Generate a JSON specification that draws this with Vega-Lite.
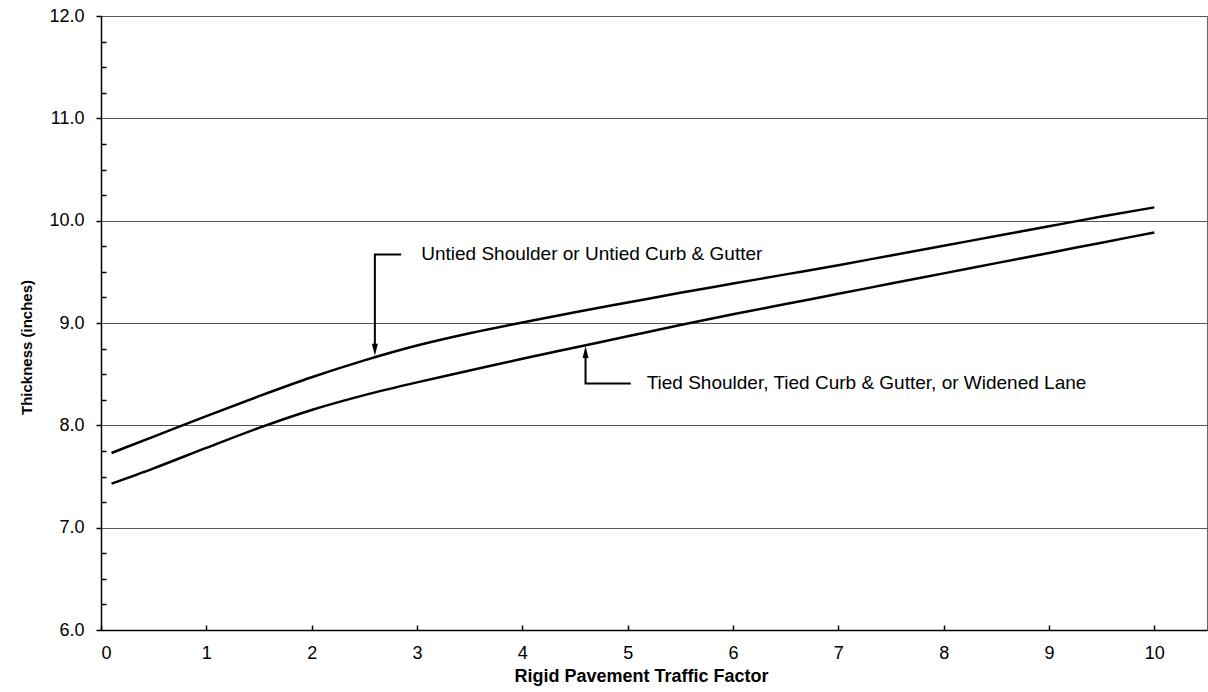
{
  "$schema": "https://vega.github.io/schema/vega-lite/v6.json",
  "width": 1106,
  "height": 614,
  "autosize": "none",
  "padding": {"left": 101, "top": 16, "right": 1, "bottom": 62},
  "background": "white",
  "config": {"view": {"stroke": "#666666", "strokeWidth": 1}, "font": "Liberation Sans"},
  "datasets": {
    "curves": [
      {"s": "Untied", "x": 0.1, "y": 7.73}, {"s": "Untied", "x": 0.5, "y": 7.89}, {"s": "Untied", "x": 1.0, "y": 8.09},
      {"s": "Untied", "x": 1.5, "y": 8.285}, {"s": "Untied", "x": 2.0, "y": 8.47}, {"s": "Untied", "x": 2.5, "y": 8.635},
      {"s": "Untied", "x": 3.0, "y": 8.78}, {"s": "Untied", "x": 3.5, "y": 8.90}, {"s": "Untied", "x": 4.0, "y": 9.005},
      {"s": "Untied", "x": 4.5, "y": 9.105}, {"s": "Untied", "x": 5.0, "y": 9.20}, {"s": "Untied", "x": 5.5, "y": 9.295},
      {"s": "Untied", "x": 6.0, "y": 9.385}, {"s": "Untied", "x": 6.5, "y": 9.475}, {"s": "Untied", "x": 7.0, "y": 9.565},
      {"s": "Untied", "x": 7.5, "y": 9.66}, {"s": "Untied", "x": 8.0, "y": 9.755}, {"s": "Untied", "x": 8.5, "y": 9.85},
      {"s": "Untied", "x": 9.0, "y": 9.945}, {"s": "Untied", "x": 9.5, "y": 10.04}, {"s": "Untied", "x": 10.0, "y": 10.13},
      {"s": "Tied", "x": 0.1, "y": 7.43}, {"s": "Tied", "x": 0.5, "y": 7.58}, {"s": "Tied", "x": 1.0, "y": 7.78},
      {"s": "Tied", "x": 1.5, "y": 7.975}, {"s": "Tied", "x": 2.0, "y": 8.15}, {"s": "Tied", "x": 2.5, "y": 8.295},
      {"s": "Tied", "x": 3.0, "y": 8.42}, {"s": "Tied", "x": 3.5, "y": 8.535}, {"s": "Tied", "x": 4.0, "y": 8.65},
      {"s": "Tied", "x": 4.5, "y": 8.76}, {"s": "Tied", "x": 5.0, "y": 8.87}, {"s": "Tied", "x": 5.5, "y": 8.98},
      {"s": "Tied", "x": 6.0, "y": 9.085}, {"s": "Tied", "x": 6.5, "y": 9.185}, {"s": "Tied", "x": 7.0, "y": 9.285},
      {"s": "Tied", "x": 7.5, "y": 9.385}, {"s": "Tied", "x": 8.0, "y": 9.485}, {"s": "Tied", "x": 8.5, "y": 9.585},
      {"s": "Tied", "x": 9.0, "y": 9.685}, {"s": "Tied", "x": 9.5, "y": 9.785}, {"s": "Tied", "x": 10.0, "y": 9.885}
    ],
    "leaders": [
      {"id": "u", "o": 1, "x": 2.85, "y": 9.67}, {"id": "u", "o": 2, "x": 2.6, "y": 9.67}, {"id": "u", "o": 3, "x": 2.6, "y": 8.75},
      {"id": "t", "o": 1, "x": 5.03, "y": 8.41}, {"id": "t", "o": 2, "x": 4.6, "y": 8.41}, {"id": "t", "o": 3, "x": 4.6, "y": 8.72}
    ],
    "arrows": [
      {"dir": "down", "x": 2.6, "y": 8.68},
      {"dir": "up", "x": 4.6, "y": 8.775}
    ],
    "labels": [
      {"t": "Untied Shoulder or Untied Curb & Gutter", "x": 3.04, "y": 9.67},
      {"t": "Tied Shoulder, Tied Curb & Gutter, or Widened Lane", "x": 5.18, "y": 8.41}
    ]
  },
  "resolve": {"axis": {"x": "independent", "y": "independent"}},
  "layer": [
    {
      "data": {"name": "curves"},
      "mark": {"type": "line", "color": "black", "strokeWidth": 2.5, "interpolate": "monotone"},
      "encoding": {
        "x": {"field": "x", "type": "quantitative",
          "scale": {"domain": [0, 10.5], "nice": false, "zero": false},
          "axis": {"orient": "bottom", "values": [0,1,2,3,4,5,6,7,8,9,10], "format": "d", "ticks": false, "tickSize": 0,
            "labelPadding": 14, "labelFontSize": 18, "labelColor": "black", "labelFont": "Liberation Sans",
            "domainColor": "black", "domainWidth": 1.5, "grid": false,
            "title": "Rigid Pavement Traffic Factor", "titleFontSize": 18, "titleFontWeight": "bold", "titleColor": "black",
            "titleFont": "Liberation Sans", "titlePadding": 5, "titleX": 540}},
        "y": {"field": "y", "type": "quantitative",
          "scale": {"domain": [6, 12], "nice": false, "zero": false},
          "axis": {"orient": "left", "values": [6,7,8,9,10,11,12], "format": ".1f", "tickSize": 5, "tickColor": "black", "tickWidth": 1.5,
            "labelPadding": 12, "labelFontSize": 18, "labelColor": "black", "labelFont": "Liberation Sans",
            "domainColor": "black", "domainWidth": 1.5, "grid": true, "gridColor": "#555555", "gridWidth": 1,
            "title": "Thickness (inches)", "titleFontSize": 15, "titleFontWeight": "bold", "titleColor": "black",
            "titleFont": "Liberation Sans", "titlePadding": 14, "titleY": 331}},
        "detail": {"field": "s", "type": "nominal"}
      }
    },
    {
      "data": {"name": "curves"},
      "mark": {"type": "point", "opacity": 0},
      "encoding": {
        "x": {"field": "x", "type": "quantitative",
          "axis": {"orient": "bottom", "values": [0,1,2,3,4,5,6,7,8,9,10], "labels": false, "ticks": true, "tickSize": -5,
            "tickColor": "black", "tickWidth": 1.5, "domain": false, "grid": false, "title": null}},
        "y": {"field": "y", "type": "quantitative",
          "axis": {"orient": "left", "values": [6.25,6.5,6.75,7.25,7.5,7.75,8.25,8.5,8.75,9.25,9.5,9.75,10.25,10.5,10.75,11.25,11.5,11.75],
            "labels": false, "ticks": true, "tickSize": -5, "tickColor": "black", "tickWidth": 1.5, "domain": false, "grid": false, "title": null}}
      }
    },
    {
      "data": {"name": "leaders"},
      "mark": {"type": "line", "color": "black", "strokeWidth": 2},
      "encoding": {
        "x": {"field": "x", "type": "quantitative", "axis": null},
        "y": {"field": "y", "type": "quantitative", "axis": null},
        "detail": {"field": "id", "type": "nominal"},
        "order": {"field": "o", "type": "quantitative"}
      }
    },
    {
      "data": {"name": "arrows"},
      "mark": {"type": "point", "filled": true, "color": "black", "opacity": 1, "size": 36, "strokeWidth": 0},
      "encoding": {
        "x": {"field": "x", "type": "quantitative", "axis": null},
        "y": {"field": "y", "type": "quantitative", "axis": null},
        "shape": {"field": "dir", "type": "nominal", "legend": null,
          "scale": {"domain": ["down", "up"], "range": ["M0,0L-1,-4L1,-4Z", "M0,0L-1,4L1,4Z"]}}
      }
    },
    {
      "data": {"name": "labels"},
      "mark": {"type": "text", "align": "left", "baseline": "middle", "fontSize": 19, "font": "Liberation Sans", "color": "black"},
      "encoding": {
        "x": {"field": "x", "type": "quantitative", "axis": null},
        "y": {"field": "y", "type": "quantitative", "axis": null},
        "text": {"field": "t", "type": "nominal"}
      }
    }
  ]
}
